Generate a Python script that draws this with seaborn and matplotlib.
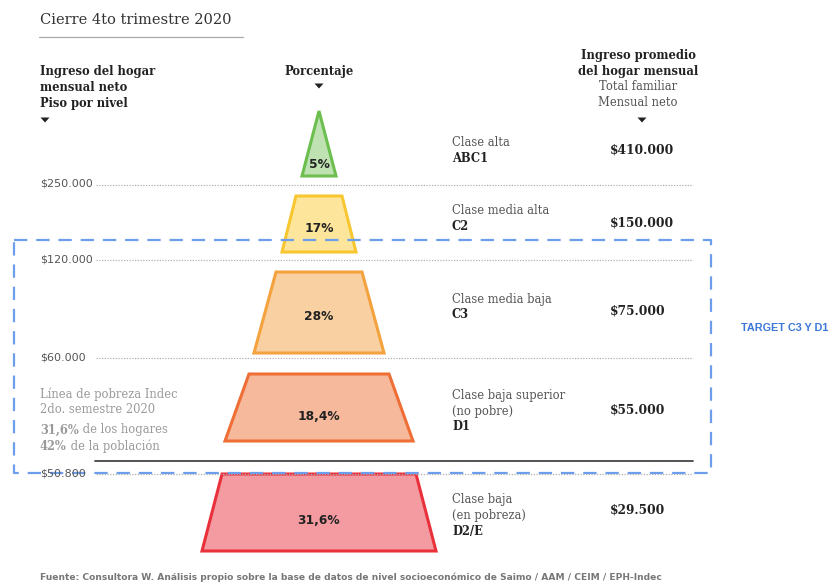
import matplotlib
matplotlib.use("Agg")
import matplotlib.pyplot as plt
import seaborn as sns

# ---- data -------------------------------------------------------------
clases = ["Clase alta", "Clase media alta", "Clase media baja",
          "Clase baja superior\n(no pobre)", "Clase baja\n(en pobreza)"]
codigos = ["ABC1", "C2", "C3", "D1", "D2/E"]
porcentajes = [5, 17, 28, 18.4, 31.6]
ingreso_promedio = [410000, 150000, 75000, 55000, 29500]
pisos = [250000, 120000, 60000, 50800]

pobreza_hogares = 31.6
pobreza_poblacion = 42

# ---- layout (pixel canvas) -------------------------------------------
W, H = 834, 585
CX = 319
# top y, bottom y, top half-width, bottom half-width
shapes = [(111, 176, 0, 17), (196, 252, 23, 37), (272, 353, 43, 65),
          (374, 441, 70, 94), (474, 551, 97, 117)]
fills = ["#bfe2b3", "#fde69c", "#f9d0a2", "#f6b99c", "#f39ba1"]
edges = ["#6cbf4e", "#f8c630", "#f4a23e", "#ee6e35", "#e9313c"]
label_y = [164, 228, 317, 416, 520]
class_y = [143, 211, 299, 396, 500]
value_y = [150, 223, 311, 410, 510]
piso_y = [185, 260, 358, 474]

SERIF = ["DejaVu Serif"]
DARK = "#222222"
GRAY = "#555555"
LIGHT = "#9a9a9a"

sns.set_theme(style="white")
plt.rcParams["font.family"] = ["DejaVu Sans"]

fig = plt.figure(figsize=(W / 100, H / 100), dpi=100)
ax = fig.add_axes([0, 0, 1, 1])
ax.set_xlim(0, W)
ax.set_ylim(H, 0)
ax.axis("off")


def fmt_money(v):
    return "$" + f"{v:,}".replace(",", ".")


def fmt_pct(v):
    s = f"{v:g}".replace(".", ",")
    return s + "%"


def arrow(x, y):
    ax.fill([x - 4.5, x + 4.5, x], [y - 2.5, y - 2.5, y + 2.5],
            color=DARK, lw=0)


# title
ax.text(40, 20, "Cierre 4to trimestre 2020", fontsize=10.5, color="#333333",
        family=SERIF, va="center", ha="left")
ax.plot([39, 243], [37, 37], color="#aaaaaa", lw=0.9)

# column headers
for i, t in enumerate(["Ingreso del hogar", "mensual neto", "Piso por nivel"]):
    ax.text(40, 72 + 15.5 * i, t, fontsize=8.3, fontweight="bold",
            color=DARK, family=SERIF, va="center")
arrow(45, 120)
ax.text(CX, 72, "Porcentaje", fontsize=8.3, fontweight="bold", color=DARK,
        family=SERIF, va="center", ha="center")
arrow(CX, 86)
hdr = [("Ingreso promedio", "bold", DARK), ("del hogar mensual", "bold", DARK),
       ("Total familiar", "normal", GRAY), ("Mensual neto", "normal", GRAY)]
for i, (t, w, c) in enumerate(hdr):
    ax.text(638, 56 + 15.5 * i, t, fontsize=8.3, fontweight=w, color=c,
            family=SERIF, va="center", ha="center")
arrow(642, 120)

# income floors: dotted separators
for v, y in zip(pisos, piso_y):
    ax.text(40, y - 1, fmt_money(v), fontsize=8, color=GRAY,
            family=["DejaVu Sans"], va="center", ha="left")
    ax.plot([96, 693], [y, y], color="#b0b0b0", lw=0.9,
            linestyle=(0, (1, 1.2)))

# poverty line
ax.plot([95, 693], [461, 461], color="#444444", lw=1.3)

# funnel pieces
for (yt, yb, wt, wb), fc, ec, p, ly in zip(shapes, fills, edges,
                                           porcentajes, label_y):
    xs = [CX - wt, CX + wt, CX + wb, CX - wb]
    ys = [yt, yt, yb, yb]
    if wt == 0:
        xs, ys = [CX, CX + wb, CX - wb], [yt, yb, yb]
    ax.fill(xs, ys, facecolor=fc, edgecolor=ec, lw=2.2, joinstyle="miter")
    ax.text(CX, ly, fmt_pct(p), fontsize=8.8, fontweight="bold", color=DARK,
            va="center", ha="center")

# class names, codes and average income
for c, code, v, cy, vy in zip(clases, codigos, ingreso_promedio,
                              class_y, value_y):
    lines = c.split("\n")
    for j, ln in enumerate(lines):
        ax.text(452, cy + 15.5 * j, ln, fontsize=8.3, color=GRAY,
                family=SERIF, va="center", ha="left")
    ax.text(452, cy + 15.5 * len(lines), code, fontsize=8.3,
            fontweight="bold", color=DARK, family=SERIF, va="center")
    ax.text(610, vy, fmt_money(v), fontsize=8.8, fontweight="bold",
            color=DARK, family=SERIF, va="center", ha="left")

# poverty note
ax.text(40, 394, "Línea de pobreza Indec", fontsize=8.3, color=LIGHT,
        family=SERIF, va="center")
ax.text(40, 409.5, "2do. semestre 2020", fontsize=8.3, color=LIGHT,
        family=SERIF, va="center")
renderer = fig.canvas.get_renderer()
for y, bold, rest in [(430, fmt_pct(pobreza_hogares), " de los hogares"),
                      (446, fmt_pct(pobreza_poblacion), " de la población")]:
    t = ax.text(40, y, bold, fontsize=8.3, fontweight="bold", color=LIGHT,
                family=SERIF, va="center")
    bb = t.get_window_extent(renderer)
    x_end = ax.transData.inverted().transform((bb.x1, bb.y0))[0]
    ax.text(x_end, y, rest, fontsize=8.3, color=LIGHT, family=SERIF,
            va="center")

# target box around C3 and D1
BLUE = "#6d9eeb"
ax.plot([14, 711, 711, 14, 14], [240, 240, 473, 473, 240], color=BLUE,
        lw=1.6, linestyle=(0, (6, 4)))
ax.text(741, 328, "TARGET C3 Y D1", fontsize=7.8, fontweight="bold",
        color="#3c78d8", family=["Liberation Sans", "DejaVu Sans"],
        va="center", ha="left")

# source
ax.text(40, 577, "Fuente: Consultora W. Análisis propio sobre la base de datos "
        "de nivel socioeconómico de Saimo / AAM / CEIM / EPH-Indec",
        fontsize=6.6, fontweight="bold", color="#777777",
        family=["Liberation Sans Narrow", "DejaVu Sans"], va="center")

fig.savefig("out.png", dpi=100, facecolor="white")
